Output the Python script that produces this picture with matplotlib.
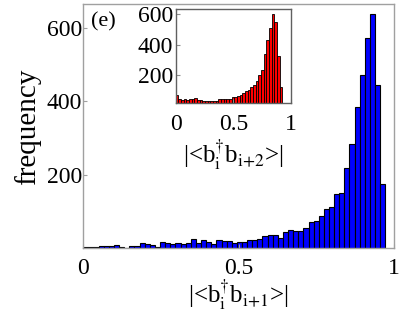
import numpy as np
import matplotlib
matplotlib.use('Agg')
import matplotlib.pyplot as plt

plt.rcParams['font.family'] = 'Liberation Serif'
plt.rcParams['mathtext.fontset'] = 'stix'

# histogram of |<b_i^dag b_{i+1}>| (main, blue)
main_counts = [4, 3, 3, 8, 8, 6, 10, 3, 2, 6, 6, 14, 11, 10, 4, 17, 14, 12, 15, 11,
               16, 25, 16, 24, 17, 11, 23, 20, 20, 16, 17, 19, 24, 23, 25, 33, 37, 38, 28, 44,
               51, 48, 48, 57, 73, 75, 89, 107, 112, 148, 150, 220, 283, 384, 471, 572, 639, 446, 175]
main_range = (0.0, 0.973)

# histogram of |<b_i^dag b_{i+2}>| (inset, red)
inset_counts = [72, 44, 39, 46, 39, 42, 46, 48, 35, 35, 33, 28, 28, 28, 33, 33, 42, 46, 46, 46,
                46, 59, 59, 61, 72, 83, 96, 105, 122, 135, 163, 202, 235, 337, 430, 507, 601, 545, 327, 122]
inset_range = (0.0, 0.925)

fig = plt.figure(figsize=(4.15, 3.11), dpi=100)
ax = fig.add_axes([0.2007, 0.201, 0.748, 0.786])

edges = np.linspace(main_range[0], main_range[1], len(main_counts) + 1)
ax.bar(edges[:-1], main_counts, width=np.diff(edges), align='edge',
       color='#0000ff', edgecolor='black', linewidth=0.8)
ax.set_xlim(0, 1)
ax.set_ylim(0, 665)
ax.set_xticks([0, 0.5, 1])
ax.set_xticklabels(['0', '0.5', '1'])
ax.set_yticks([200, 400, 600])
for s in ax.spines.values():
    s.set_color('#a0a0a0')
    s.set_linewidth(1.0)
ax.tick_params(direction='in', length=3, color='#a0a0a0', labelsize=17)
ax.tick_params(axis='x', pad=7)
ax.tick_params(axis='y', pad=1)
ax.set_xlabel(r'|<b$_{\mathrm{i}}^{\dagger}$b$_{\mathrm{i{+}1}}$>|', fontsize=18, labelpad=-1)
ax.set_ylabel('frequency', fontsize=21, labelpad=4)
ax.text(0.025, 0.928, '(e)', transform=ax.transAxes, fontsize=16, va='center', ha='left')

ins = fig.add_axes([0.4234, 0.670, 0.2778, 0.300])
iedges = np.linspace(inset_range[0], inset_range[1], len(inset_counts) + 1)
ins.bar(iedges[:-1], inset_counts, width=np.diff(iedges), align='edge',
        color='#ff0000', edgecolor='black', linewidth=0.6)
ins.set_xlim(0, 1)
ins.set_ylim(20, 630)
ins.set_xticks([0, 0.5, 1])
ins.set_xticklabels(['0', '0.5', '1'])
ins.set_yticks([200, 400, 600])
for s in ins.spines.values():
    s.set_color('#606060')
    s.set_linewidth(1.0)
ins.tick_params(direction='in', length=3, color='#909090', labelsize=17)
ins.tick_params(axis='x', pad=8)
ins.tick_params(axis='y', pad=2)
ins.set_xlabel(r'|<b$_{\mathrm{i}}^{\dagger}$b$_{\mathrm{i{+}2}}$>|', fontsize=18, labelpad=2)

fig.savefig('out.png', dpi=100)
